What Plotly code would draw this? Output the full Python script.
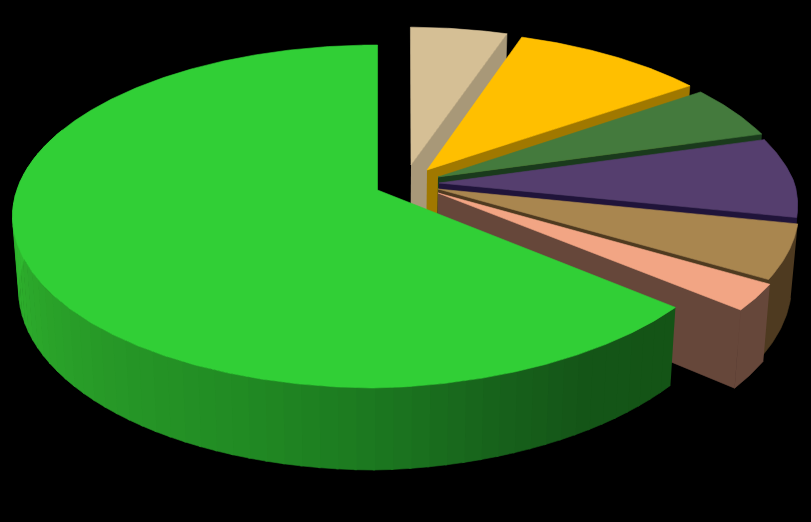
import numpy as np
import plotly.graph_objects as go

# Slice shares in percent, clockwise from 12 o'clock
names = ["Tan", "Yellow", "Dark green", "Purple", "Bronze", "Salmon", "Green"]
values = [5.3, 10.05, 5.2, 7.75, 5.3, 2.6, 63.8]

# Styles
top_colors = ["#D5BF95", "#FFBF00", "#447A3D", "#553E6E", "#A9864F", "#F2A584", "#31CF36"]
wall_colors = ["#A89878", "#A07800", "#1A3A1C", "#20143A", "#4E3A20", "#66473A", "#145416"]
# Where each slice's apex lands on the page (explosion of the slice)
apex_px = [(411, 165), (427, 170), (438, 177), (439, 183), (438, 189), (438, 193), (377.5, 190)]
radius_scale = [0.992, 0.996, 0.992, 0.992, 0.992, 0.992, 1.0]
start_nudge = [0.7, 0, 0, 0, 0, 0, 0]
# Shading of the big slice's rim: angle in degrees -> colour
rim_angles = [130, 150, 165, 180, 200, 225, 250, 270, 300]
rim_rgb = [(20, 84, 22), (21, 86, 24), (24, 100, 28), (28, 120, 32), (34, 140, 36),
           (40, 155, 40), (45, 172, 44), (48, 185, 48), (49, 200, 52)]

# Camera
CX, CY = 378.0, 190.0
A, B, K, D, SHRINK = 360.6, 167.4, 0.1545, 73.4, 0.017


def project(u, v, z):
    w = (1 - K * v) * (1 + SHRINK * z)
    return CX + A * u / w, CY + (B * v + D * z) / w


def unproject(sx, sy):
    d = sy - CY
    v = d / (B + K * d)
    return (sx - CX) * (1 - K * v) / A, v


def rim(th, scale):
    r = scale * (1 - 0.045 * np.sin(th) * np.clip(-np.cos(th), 0, None) * (np.sin(th) > 0))
    return r * np.sin(th), -r * np.cos(th)


def poly(xs, ys, color, name):
    return go.Scatter(x=list(xs), y=list(ys), mode="lines", fill="toself", fillcolor=color,
                      line=dict(color=color, width=0.6), hoverinfo="skip", name=name,
                      showlegend=False)


fig = go.Figure()
start = 0.0
total = sum(values)
for i, val in enumerate(values):
    sweep = 360.0 * val / total
    end = start + sweep
    eu, ev = unproject(*apex_px[i])
    th = np.radians(np.linspace(start + start_nudge[i], end, max(8, int(sweep * 2))))
    ru, rv = rim(th, radius_scale[i])
    us, vs = eu + ru, ev + rv

    if i < len(values) - 1:
        # radial face at the clockwise end
        p = [project(eu, ev, 0), project(us[-1], vs[-1], 0), project(us[-1], vs[-1], 1), project(eu, ev, 1)]
        fig.add_trace(poly([q[0] for q in p], [q[1] for q in p], wall_colors[i], names[i]))
        # outer wall
        mask = -np.cos(th) > -0.1
        if mask.sum() > 1:
            t = project(us[mask], vs[mask], 0)
            b = project(us[mask], vs[mask], 1)
            fig.add_trace(poly(np.r_[t[0], b[0][::-1]], np.r_[t[1], b[1][::-1]], wall_colors[i], names[i]))
    else:
        # big slice: shaded rim drawn in narrow bands
        edges = np.r_[np.arange(start, 292.0, 2.5), 292.0]
        for a0, a1 in zip(edges[:-1], edges[1:]):
            tt = np.radians(np.linspace(a0, a1 + 0.3, 4))
            ruu, rvv = rim(tt, radius_scale[i])
            uu, vv = eu + ruu, ev + rvv
            t = project(uu, vv, 0)
            b = project(uu, vv, 1)
            mid = (a0 + a1) / 2
            rgb = [int(np.interp(mid, rim_angles, [c[k] for c in rim_rgb])) for k in range(3)]
            fig.add_trace(poly(np.r_[t[0], b[0][::-1]], np.r_[t[1], b[1][::-1]],
                               "rgb(%d,%d,%d)" % tuple(rgb), names[i]))

    # top face
    tx, ty = project(us, vs, 0)
    ax, ay = project(eu, ev, 0)
    fig.add_trace(poly(np.r_[ax, tx, ax], np.r_[ay, ty, ay], top_colors[i], names[i]))
    start = end

fig.update_layout(
    width=811, height=522, autosize=False,
    margin=dict(l=0, r=0, t=0, b=0),
    paper_bgcolor="#000000", plot_bgcolor="#000000",
    xaxis=dict(range=[0, 811], visible=False, fixedrange=True),
    yaxis=dict(range=[522, 0], visible=False, fixedrange=True),
    showlegend=False,
)
fig.write_html("out.html", config={"displayModeBar": False},
               post_script="document.body.style.margin='0';document.body.style.background='#000';")
